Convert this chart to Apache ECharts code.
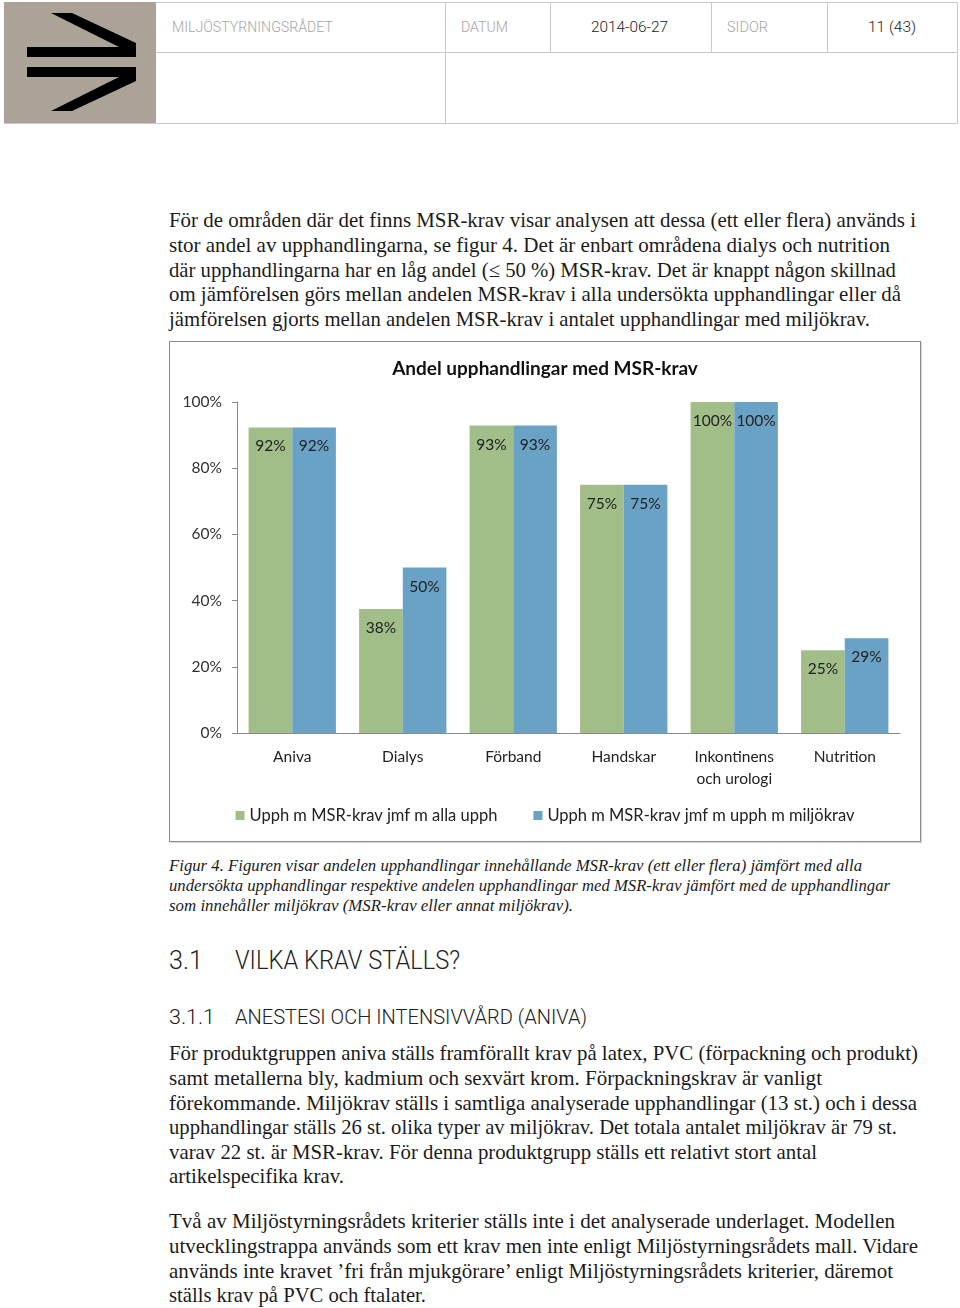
<!DOCTYPE html>
<html lang="sv">
<head>
<meta charset="utf-8">
<script src="https://cdn.jsdelivr.net/npm/echarts@6/dist/echarts.min.js"></script>
<style>
  html, body { margin:0; padding:0; background:#fff; }
  body { width:960px; height:1308px; position:relative; overflow:hidden; }
  .ln { position:absolute; white-space:nowrap; display:inline-block; transform-origin:0 50%; }
  .serif { font-family:"Liberation Serif","DejaVu Serif",serif; font-size:21px; line-height:24px; color:#1b1b1b; }
  .cap { font-family:"Liberation Serif","DejaVu Serif",serif; font-style:italic; font-size:16.5px; line-height:20px; color:#1b1b1b; }
  .hd { font-family:Roboto,"Liberation Sans",sans-serif; font-weight:300; color:#222; }
  .hdr { font-family:Roboto,"Liberation Sans",sans-serif; font-weight:300; font-size:14.5px; line-height:16px; }
  .rule { position:absolute; background:#c9c9c9; }
  #chart { position:absolute; left:169px; top:341px; width:750px; height:499px; border:1px solid #8d8d8d; box-shadow:1px 1px 1px rgba(0,0,0,0.15); }
</style>
</head>
<body>
<!-- header -->
<div style="position:absolute;left:4px;top:2px;width:152px;height:121px;background:#aba298;"></div>
<svg style="position:absolute;left:0;top:0" width="160" height="125">
  <polygon points="51,13 72,13 136,43 136,57 27,57 27,47 119,47" fill="#000"/>
  <polygon points="27,67 136,67 136,81 72,111 51,111 119,77 27,77" fill="#000"/>
</svg>
<div class="rule" style="left:156px;top:2px;width:802px;height:1px;"></div>
<div class="rule" style="left:156px;top:52px;width:802px;height:1px;"></div>
<div class="rule" style="left:4px;top:123px;width:954px;height:1px;"></div>
<div class="rule" style="left:957px;top:2px;width:1px;height:122px;"></div>
<div class="rule" style="left:445px;top:2px;width:1px;height:122px;"></div>
<div class="rule" style="left:550px;top:2px;width:1px;height:51px;"></div>
<div class="rule" style="left:711px;top:2px;width:1px;height:51px;"></div>
<div class="rule" style="left:827px;top:2px;width:1px;height:51px;"></div>
<span class="ln hdr" style="left:172px;top:20px;color:#a5a5a5;" data-w="161">MILJÖSTYRNINGSRÅDET</span>
<span class="ln hdr" style="left:461px;top:20px;color:#a5a5a5;" data-w="47">DATUM</span>
<span class="ln hdr" style="left:591px;top:20px;color:#222;" data-w="77">2014-06-27</span>
<span class="ln hdr" style="left:727px;top:20px;color:#a5a5a5;" data-w="41">SIDOR</span>
<span class="ln hdr" style="left:868px;top:20px;color:#222;" data-w="48">11 (43)</span>

<!-- paragraph 1 -->
<span class="ln serif" style="left:169px;top:208px;" data-w="747">För de områden där det finns MSR-krav visar analysen att dessa (ett eller flera) används i</span>
<span class="ln serif" style="left:169px;top:233px;" data-w="721">stor andel av upphandlingarna, se figur 4. Det är enbart områdena dialys och nutrition</span>
<span class="ln serif" style="left:169px;top:258px;" data-w="727">där upphandlingarna har en låg andel (≤ 50 %) MSR-krav. Det är knappt någon skillnad</span>
<span class="ln serif" style="left:169px;top:282px;" data-w="732">om jämförelsen görs mellan andelen MSR-krav i alla undersökta upphandlingar eller då</span>
<span class="ln serif" style="left:169px;top:307px;" data-w="701">jämförelsen gjorts mellan andelen MSR-krav i antalet upphandlingar med miljökrav.</span>

<div id="chart"></div>

<!-- caption -->
<span class="ln cap" style="left:169px;top:856px;" data-w="693">Figur 4. Figuren visar andelen upphandlingar innehållande MSR-krav (ett eller flera) jämfört med alla</span>
<span class="ln cap" style="left:169px;top:876px;" data-w="721">undersökta upphandlingar respektive andelen upphandlingar med MSR-krav jämfört med de upphandlingar</span>
<span class="ln cap" style="left:169px;top:896px;" data-w="404">som innehåller miljökrav (MSR-krav eller annat miljökrav).</span>

<!-- headings -->
<span class="ln hd" style="left:169px;top:947px;font-size:25px;line-height:28px;" data-w="34">3.1</span>
<span class="ln hd" style="left:235px;top:947px;font-size:25px;line-height:28px;" data-w="225">VILKA KRAV STÄLLS?</span>
<span class="ln hd" style="left:169px;top:1007px;font-size:19.5px;line-height:22px;" data-w="46">3.1.1</span>
<span class="ln hd" style="left:235px;top:1007px;font-size:19.5px;line-height:22px;" data-w="352">ANESTESI OCH INTENSIVVÅRD (ANIVA)</span>

<!-- paragraph 2 -->
<span class="ln serif" style="left:169px;top:1041px;" data-w="749">För produktgruppen aniva ställs framförallt krav på latex, PVC (förpackning och produkt)</span>
<span class="ln serif" style="left:169px;top:1066px;" data-w="653">samt metallerna bly, kadmium och sexvärt krom. Förpackningskrav är vanligt</span>
<span class="ln serif" style="left:169px;top:1091px;" data-w="748">förekommande. Miljökrav ställs i samtliga analyserade upphandlingar (13 st.) och i dessa</span>
<span class="ln serif" style="left:169px;top:1115px;" data-w="728">upphandlingar ställs 26 st. olika typer av miljökrav. Det totala antalet miljökrav är 79 st.</span>
<span class="ln serif" style="left:169px;top:1140px;" data-w="648">varav 22 st. är MSR-krav. För denna produktgrupp ställs ett relativt stort antal</span>
<span class="ln serif" style="left:169px;top:1164px;" data-w="175">artikelspecifika krav.</span>

<!-- paragraph 3 -->
<span class="ln serif" style="left:169px;top:1209px;" data-w="726">Två av Miljöstyrningsrådets kriterier ställs inte i det analyserade underlaget. Modellen</span>
<span class="ln serif" style="left:169px;top:1234px;" data-w="749">utvecklingstrappa används som ett krav men inte enligt Miljöstyrningsrådets mall. Vidare</span>
<span class="ln serif" style="left:169px;top:1259px;" data-w="724">används inte kravet ’fri från mjukgörare’ enligt Miljöstyrningsrådets kriterier, däremot</span>
<span class="ln serif" style="left:169px;top:1283px;" data-w="257">ställs krav på PVC och ftalater.</span>

<script>
// ---- chart data ----
const categories = ['Aniva', 'Dialys', 'Förband', 'Handskar', 'Inkontinens\noch urologi', 'Nutrition'];
const seriesNames = ['Upph m MSR-krav jmf m alla upph', 'Upph m MSR-krav jmf m upph m miljökrav'];
const allaUpph = [92.3, 37.5, 92.9, 75, 100, 25];
const miljokravUpph = [92.3, 50, 92.9, 75, 100, 28.6];
const yTicks = [0, 20, 40, 60, 80, 100];
const chartTitle = 'Andel upphandlingar med MSR-krav';

const FONT = 'Lato, "Open Sans", sans-serif';
const labelCfg = {
  show: true, position: 'insideTop', distance: 11,
  fontFamily: FONT, fontSize: 15.5, color: '#222',
  formatter: p => Math.round(p.value) + '%'
};
const chart = echarts.init(document.getElementById('chart'), null, { renderer: 'canvas' });
chart.setOption({
  animation: false,
  backgroundColor: '#fff',
  title: {
    text: chartTitle, left: 'center', top: 12,
    textStyle: { fontFamily: FONT, fontSize: 19, fontWeight: 'bold', color: '#111' }
  },
  grid: { left: 67, right: 20, top: 60, bottom: 108 },
  legend: {
    data: seriesNames, left: 'center', top: 460,
    icon: 'rect', itemWidth: 9, itemHeight: 9, itemGap: 36,
    textStyle: { fontFamily: FONT, fontSize: 16.5, color: '#222' }
  },
  xAxis: {
    type: 'category', data: categories,
    axisLine: { lineStyle: { color: '#8a8a8a', width: 1 } },
    axisTick: { show: false },
    axisLabel: { fontFamily: FONT, fontSize: 15.5, color: '#222', margin: 13, lineHeight: 22, interval: 0 }
  },
  yAxis: {
    type: 'value', min: yTicks[0], max: yTicks[yTicks.length - 1],
    interval: yTicks[1] - yTicks[0],
    axisLine: { show: true, lineStyle: { color: '#8a8a8a', width: 1 } },
    axisTick: { show: true, length: 5, lineStyle: { color: '#8a8a8a' } },
    splitLine: { show: false },
    axisLabel: { fontFamily: FONT, fontSize: 15.5, color: '#333', margin: 15, formatter: '{value}%' }
  },
  series: [
    { name: seriesNames[0], type: 'bar', data: allaUpph, barGap: '0%', barCategoryGap: '21%',
      itemStyle: { color: '#a1bd88' }, label: labelCfg },
    { name: seriesNames[1], type: 'bar', data: miljokravUpph, barGap: '0%', barCategoryGap: '21%',
      itemStyle: { color: '#6aa2c5' }, label: labelCfg }
  ]
});

// fit text lines horizontally to the reference widths
function fit() {
  document.querySelectorAll('[data-w]').forEach(el => {
    el.style.transform = '';
    const w = el.getBoundingClientRect().width;
    const t = parseFloat(el.dataset.w);
    if (w > 0) el.style.transform = 'scaleX(' + (t / w).toFixed(4) + ')';
  });
}
fit();
if (document.fonts && document.fonts.ready) document.fonts.ready.then(fit);
</script>
</body>
</html>
